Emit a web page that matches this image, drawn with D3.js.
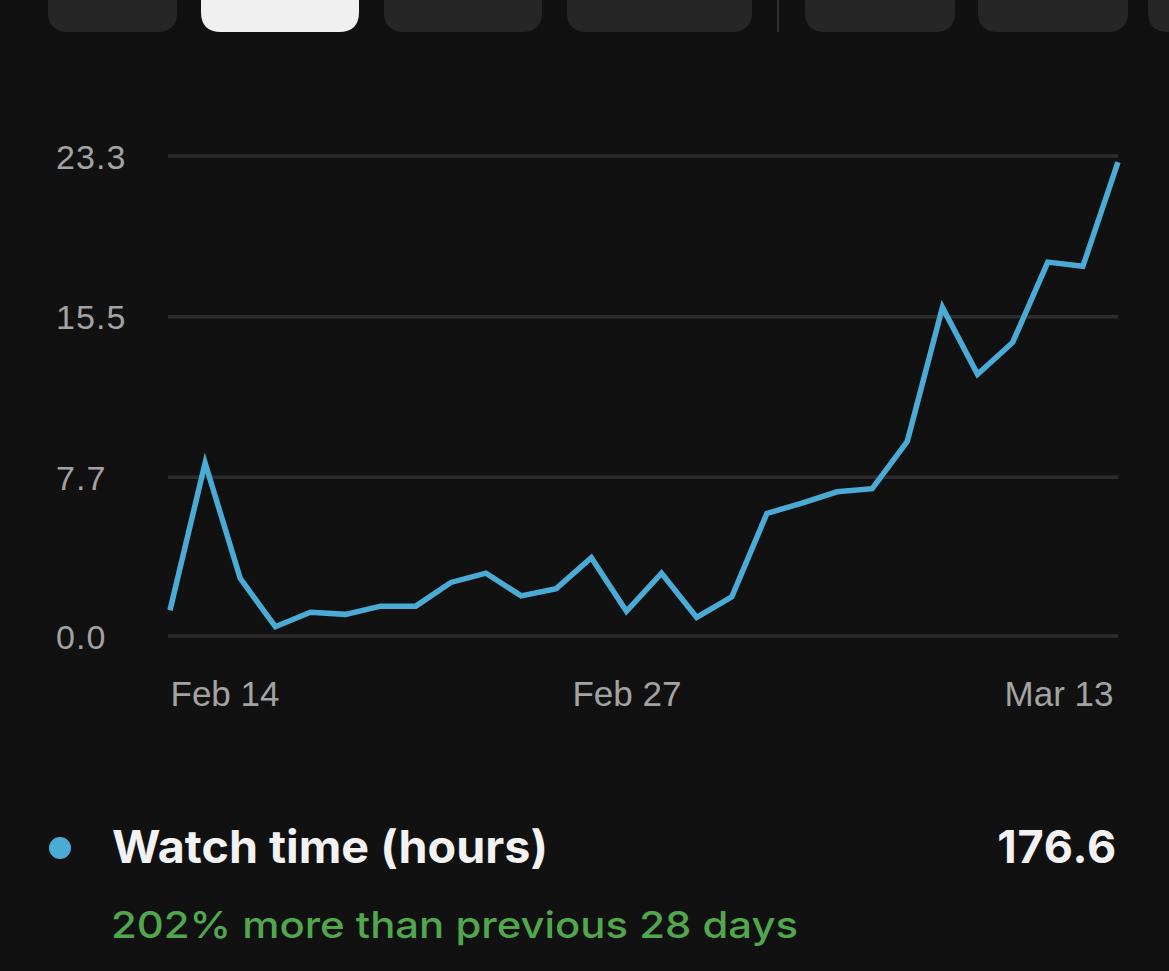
<!DOCTYPE html>
<html>
<head>
<meta charset="utf-8">
<script src="https://cdn.jsdelivr.net/npm/d3@7"></script>
<style>
	body { margin: 0; background: #111111; overflow: hidden; }
	svg { display: block; font-family: Inter, "Noto Sans", sans-serif; }
	.grid line { stroke: #2c2c2c; stroke-width: 3.5; }
	.axis text { fill: #a3a3a3; }
</style>
</head>
<body>
<script>
//chart data
var days = ["Feb 14","Feb 15","Feb 16","Feb 17","Feb 18","Feb 19","Feb 20","Feb 21","Feb 22","Feb 23",
	"Feb 24","Feb 25","Feb 26","Feb 27","Feb 28","Mar 1","Mar 2","Mar 3","Mar 4","Mar 5",
	"Mar 6","Mar 7","Mar 8","Mar 9","Mar 10","Mar 11","Mar 12","Mar 13"];
var watchHours = [1.25, 8.4, 2.8, 0.45, 1.15, 1.05, 1.45, 1.45, 2.6, 3.05,
	1.95, 2.3, 3.8, 1.2, 3.05, 0.9, 1.9, 5.95, 6.45, 7.0,
	7.15, 9.45, 15.95, 12.7, 14.25, 18.15, 17.95, 23.0];
var yTicks = [0, 7.7, 15.5, 23.3];
var xTicks = ["Feb 14", "Feb 27", "Mar 13"];
var seriesName = "Watch time (hours)";
var seriesTotal = "176.6";
var changeNote = "202% more than previous 28 days";

window.onload = draw;

function draw(){
	var width = 1169,
		height = 971;

	var svg = d3.select("body")
		.append("svg")
		.attr("width", width)
		.attr("height", height);

	//range selector pills, cut off by the top edge
	var pillLeft = [48, 201, 384, 567, 805, 978, 1148],
		pillW = [129, 158, 158, 185, 150, 150, 150];

	svg.selectAll(".pill")
		.data(pillLeft)
		.enter()
		.append("path")
		.attr("class", "pill")
		.attr("d", function(d, i){
			var x = d, w = pillW[i], r = 20, b = 32;
			return "M" + x + ",-10 V" + (b - r) + " Q" + x + "," + b + " " + (x + r) + "," + b +
				" H" + (x + w - r) + " Q" + (x + w) + "," + b + " " + (x + w) + "," + (b - r) + " V-10 Z";
		})
		.attr("fill", function(d, i){ return i == 1 ? "#f0f0f0" : "#262626"; });

	svg.append("line")
		.attr("x1", 778).attr("x2", 778)
		.attr("y1", 0).attr("y2", 32)
		.attr("stroke", "#333")
		.attr("stroke-width", 2);

	//scales
	var x = d3.scalePoint()
		.domain(days)
		.range([170, 1118]);

	var y = d3.scaleLinear()
		.domain([0, 23.3])
		.range([636, 156]);

	//gridlines
	svg.append("g")
		.attr("class", "grid")
		.selectAll("line")
		.data(yTicks)
		.enter()
		.append("line")
		.attr("x1", 168)
		.attr("x2", 1118)
		.attr("y1", function(d){ return y(d); })
		.attr("y2", function(d){ return y(d); });

	//y labels
	var yAxis = svg.append("g")
		.attr("class", "axis")
		.attr("transform", "translate(56,0)")
		.call(d3.axisRight(y).tickValues(yTicks).tickSize(0).tickPadding(0)
			.tickFormat(function(d){ return d.toFixed(1); }));
	yAxis.select(".domain").remove();
	yAxis.selectAll("text")
		.attr("dy", "0.36em")
		.attr("font-size", 34)
		.attr("letter-spacing", 1.1);

	//x labels
	var xAxis = svg.append("g")
		.attr("class", "axis")
		.attr("transform", "translate(0,706)")
		.call(d3.axisBottom(x).tickValues(xTicks).tickSize(0).tickPadding(0));
	xAxis.select(".domain").remove();
	xAxis.selectAll("text")
		.attr("dy", 0)
		.attr("y", 0)
		.attr("font-size", 35)
		.attr("text-anchor", function(d, i){
			return i == 0 ? "start" : (i == xTicks.length - 1 ? "end" : "middle");
		})
		.attr("dx", function(d, i){ return i == xTicks.length - 1 ? -5 : 0; });

	//watch time line
	var line = d3.line()
		.x(function(d, i){ return x(days[i]); })
		.y(function(d){ return y(d); });

	svg.append("path")
		.datum(watchHours)
		.attr("d", line)
		.attr("fill", "none")
		.attr("stroke", "#4aabd6")
		.attr("stroke-width", 5.5)
		.attr("stroke-linejoin", "miter");

	//legend
	svg.append("circle")
		.attr("cx", 60)
		.attr("cy", 848)
		.attr("r", 11)
		.attr("fill", "#4aabd6");

	svg.append("text")
		.attr("x", 112)
		.attr("y", 863)
		.attr("font-size", 45)
		.attr("font-weight", 700)
		.attr("fill", "#f2f2f2")
		.attr("textLength", 436)
		.attr("lengthAdjust", "spacingAndGlyphs")
		.text(seriesName);

	svg.append("text")
		.attr("x", 1117)
		.attr("y", 863)
		.attr("text-anchor", "end")
		.attr("font-size", 45)
		.attr("font-weight", 700)
		.attr("fill", "#f2f2f2")
		.attr("letter-spacing", 0.8)
		.text(seriesTotal);

	svg.append("text")
		.attr("x", 111)
		.attr("y", 938)
		.attr("font-size", 37)
		.attr("font-weight", 500)
		.attr("fill", "#52a74e")
		.attr("textLength", 687)
		.attr("lengthAdjust", "spacingAndGlyphs")
		.text(changeNote);
};
</script>
</body>
</html>
